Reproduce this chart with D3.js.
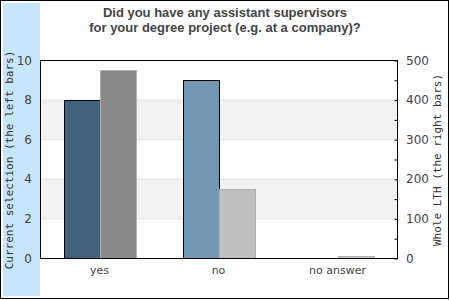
<!DOCTYPE html>
<html><head><meta charset="utf-8">
<script src="https://cdn.jsdelivr.net/npm/d3@7"></script>
<style>body{margin:0;background:#fff}svg{display:block}</style>
</head><body>
<script>
const categories = ["yes", "no", "no answer"];
const currentValues = [8, 9, 0];
const lthValues = [475, 175, 5];
const leftTicks = [0, 2, 4, 6, 8, 10];
const rightTicks = [0, 100, 200, 300, 400, 500];
const rightMinorTicks = [50, 150, 250, 350, 450];
const titleLines = ["Did you have any assistant supervisors", "for your degree project (e.g. at a company)?"];
const leftTitle = "Current selection (the left bars)";
const rightTitle = "Whole LTH (the right bars)";
const curColors = ["#41607c", "#7397b2", "#7397b2"];
const lthColors = ["#898989", "#c0c0c0", "#c0c0c0"];

const W = 450, H = 300;
const L = 40, R = 397, T = 60, B = 258;
const svg = d3.select("body").append("svg").attr("width", W).attr("height", H);

svg.append("rect").attr("x", 3).attr("y", 3).attr("width", 37).attr("height", 293).attr("fill", "#c7e6fd");

const x = d3.scaleBand().domain(categories).range([L, R]).paddingInner(0).paddingOuter(0);
const x1 = d3.scaleBand().domain(["cur", "lth"]).range([0, x.bandwidth()]).paddingInner(0).paddingOuter(0.653);
const yL = d3.scaleLinear().domain([0, 10]).range([B, T]);
const yR = d3.scaleLinear().domain([0, 500]).range([B, T]);

// bands
const bandPairs = d3.pairs(leftTicks);
svg.append("g").selectAll("rect").data(bandPairs).join("rect")
  .attr("x", L).attr("width", R - L)
  .attr("y", d => yL(d[1])).attr("height", d => yL(d[0]) - yL(d[1]))
  .attr("fill", (d, i) => i % 2 === 1 ? "#f2f2f2" : "#ffffff");
svg.append("g").selectAll("line").data(leftTicks.slice(1, -1)).join("line")
  .attr("x1", L).attr("x2", R).attr("y1", d => yL(d) + 0.5).attr("y2", d => yL(d) + 0.5)
  .attr("stroke", "#e0e0e0");

// bars
const g = svg.append("g");
g.selectAll(".cur").data(categories).join("rect").attr("class", "cur")
  .attr("x", d => Math.round(x(d) + x1("cur")) + 0.5)
  .attr("width", x1.bandwidth())
  .attr("y", (d, i) => Math.round(yL(currentValues[i])) + 0.5)
  .attr("height", (d, i) => B - Math.round(yL(currentValues[i])))
  .attr("fill", (d, i) => curColors[i])
  .attr("stroke", "#000")
  .style("display", (d, i) => currentValues[i] > 0 ? null : "none");
g.selectAll(".lth").data(categories).join("rect").attr("class", "lth")
  .attr("x", d => Math.round(x(d) + x1("lth")) + 0.5)
  .attr("width", x1.bandwidth())
  .attr("y", (d, i) => Math.round(yR(lthValues[i])) + 0.5)
  .attr("height", (d, i) => B - Math.round(yR(lthValues[i])))
  .attr("fill", (d, i) => lthColors[i])
  .attr("stroke", "#b0b0b0");

// plot frame
svg.append("rect").attr("x", L + 0.5).attr("y", T + 0.5).attr("width", R - L).attr("height", B - T)
  .attr("fill", "none").attr("stroke", "#000");

// left axis labels
svg.append("g").selectAll("text").data(leftTicks).join("text")
  .attr("x", 32).attr("y", d => yL(d) + 4.5).attr("text-anchor", "end")
  .attr("font-family", "DejaVu Sans").attr("font-size", 12).attr("fill", "#444")
  .text(d => d);

// right axis
const axR = d3.axisRight(yR).tickValues(rightTicks.concat(rightMinorTicks)).tickSize(-3).tickFormat("");
const gR = svg.append("g").attr("transform", `translate(${R + 0.5},0.5)`).call(axR);
gR.select(".domain").remove();
gR.selectAll("line").attr("stroke", "#000");
svg.append("g").selectAll("text").data(rightTicks).join("text")
  .attr("x", 406).attr("y", d => yR(d) + 4.5).attr("text-anchor", "start")
  .attr("font-family", "DejaVu Sans").attr("font-size", 12).attr("fill", "#444")
  .text(d => d);

// x labels
svg.append("g").selectAll("text").data(categories).join("text")
  .attr("x", d => x(d) + x.bandwidth() / 2).attr("y", 274).attr("text-anchor", "middle")
  .attr("font-family", "DejaVu Sans").attr("font-size", 11).attr("fill", "#444")
  .text(d => d);

// axis titles
svg.append("text").attr("transform", "translate(13,160) rotate(-90)").attr("text-anchor", "middle")
  .attr("font-family", "DejaVu Sans Mono").attr("font-size", 11).attr("fill", "#333").text(leftTitle);
svg.append("text").attr("transform", "translate(441,160) rotate(-90)").attr("text-anchor", "middle")
  .attr("font-family", "DejaVu Sans Mono").attr("font-size", 11).attr("fill", "#333").text(rightTitle);

// title
svg.append("g").selectAll("text").data(titleLines).join("text")
  .attr("x", 225).attr("y", (d, i) => 17 + i * 15).attr("text-anchor", "middle")
  .attr("font-family", "Liberation Sans, Arial").attr("font-weight", "bold").attr("font-size", 13).attr("fill", "#444")
  .text(d => d);

// outer border
svg.append("rect").attr("x", 0.5).attr("y", 0.5).attr("width", 448).attr("height", 298)
  .attr("fill", "none").attr("stroke", "#000");
</script>
</body></html>
